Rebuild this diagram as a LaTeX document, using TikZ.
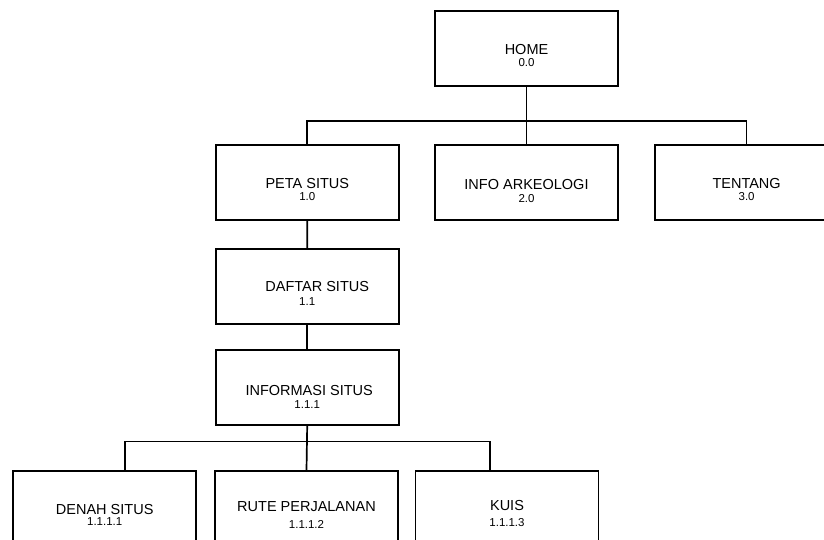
\documentclass[tikz,border=0pt]{standalone}
\usepackage{fontspec}
\setmainfont{Liberation Sans}
\tikzset{
  box/.style={draw, line width=1.7pt, minimum width=183pt, minimum height=75pt, inner sep=0pt},
  mainlbl/.style={font=\fontsize{14.5}{14.5}\selectfont, inner sep=0pt},
  sublbl/.style={font=\fontsize{11.5}{11.5}\selectfont, inner sep=0pt},
  conn/.style={line width=1.7pt},
}
% name, x, y, main, sub, main dx, main dy, sub dy
\newcommand\chartbox[8]{%
  \node[box,
    label={[mainlbl,xshift=#6pt,yshift=#7pt]center:#4},
    label={[sublbl,yshift=#8pt]center:#5}] (#1) at (#2,-#3) {};}
\begin{document}
\begin{tikzpicture}[x=1pt,y=1pt]
\useasboundingbox (0,0) rectangle (824,-539);
\clip (0,0) rectangle (824,-539);
\chartbox{home}{526.5}{48.5}{HOME}{0.0}{0}{-0.7}{-14}
\chartbox{peta}{307.3}{182.5}{PETA SITUS}{1.0}{0}{-1.5}{-14.5}
\chartbox{info}{526.5}{182.5}{INFO ARKEOLOGI}{2.0}{0}{-2}{-16}
\chartbox{tentang}{746.6}{182.5}{TENTANG}{3.0}{0}{-1.3}{-14}
\chartbox{daftar}{307.2}{286.2}{DAFTAR SITUS}{1.1}{10}{-0.8}{-15.5}
\chartbox{informasi}{307.2}{387.8}{INFORMASI SITUS}{1.1.1}{2}{-2.2}{-16.5}
\chartbox{denah}{104.7}{508.2}{DENAH SITUS}{1.1.1.1}{0}{-1}{-13.8}
\chartbox{rute}{306.5}{508.5}{RUTE PERJALANAN}{1.1.1.2}{0}{2.3}{-16}
\chartbox{kuis}{507}{508.2}{KUIS}{1.1.1.3}{0}{2.4}{-14.6}
% connectors
\draw[conn] (home.south) -- (info.north);
\draw[conn] (peta.north) -- ++(0,23) -| (tentang.north);
\draw[conn] (peta.south) -- (daftar.north);
\draw[conn] (daftar.south) -- (informasi.north);
\draw[conn] (informasi.south) -- (rute.north);
\coordinate (dtop) at ([xshift=20pt]denah.north);
\coordinate (ktop) at ([xshift=-17pt]kuis.north);
\draw[conn] (dtop) -- ++(0,28.4) -| (ktop);
\end{tikzpicture}
\end{document}
